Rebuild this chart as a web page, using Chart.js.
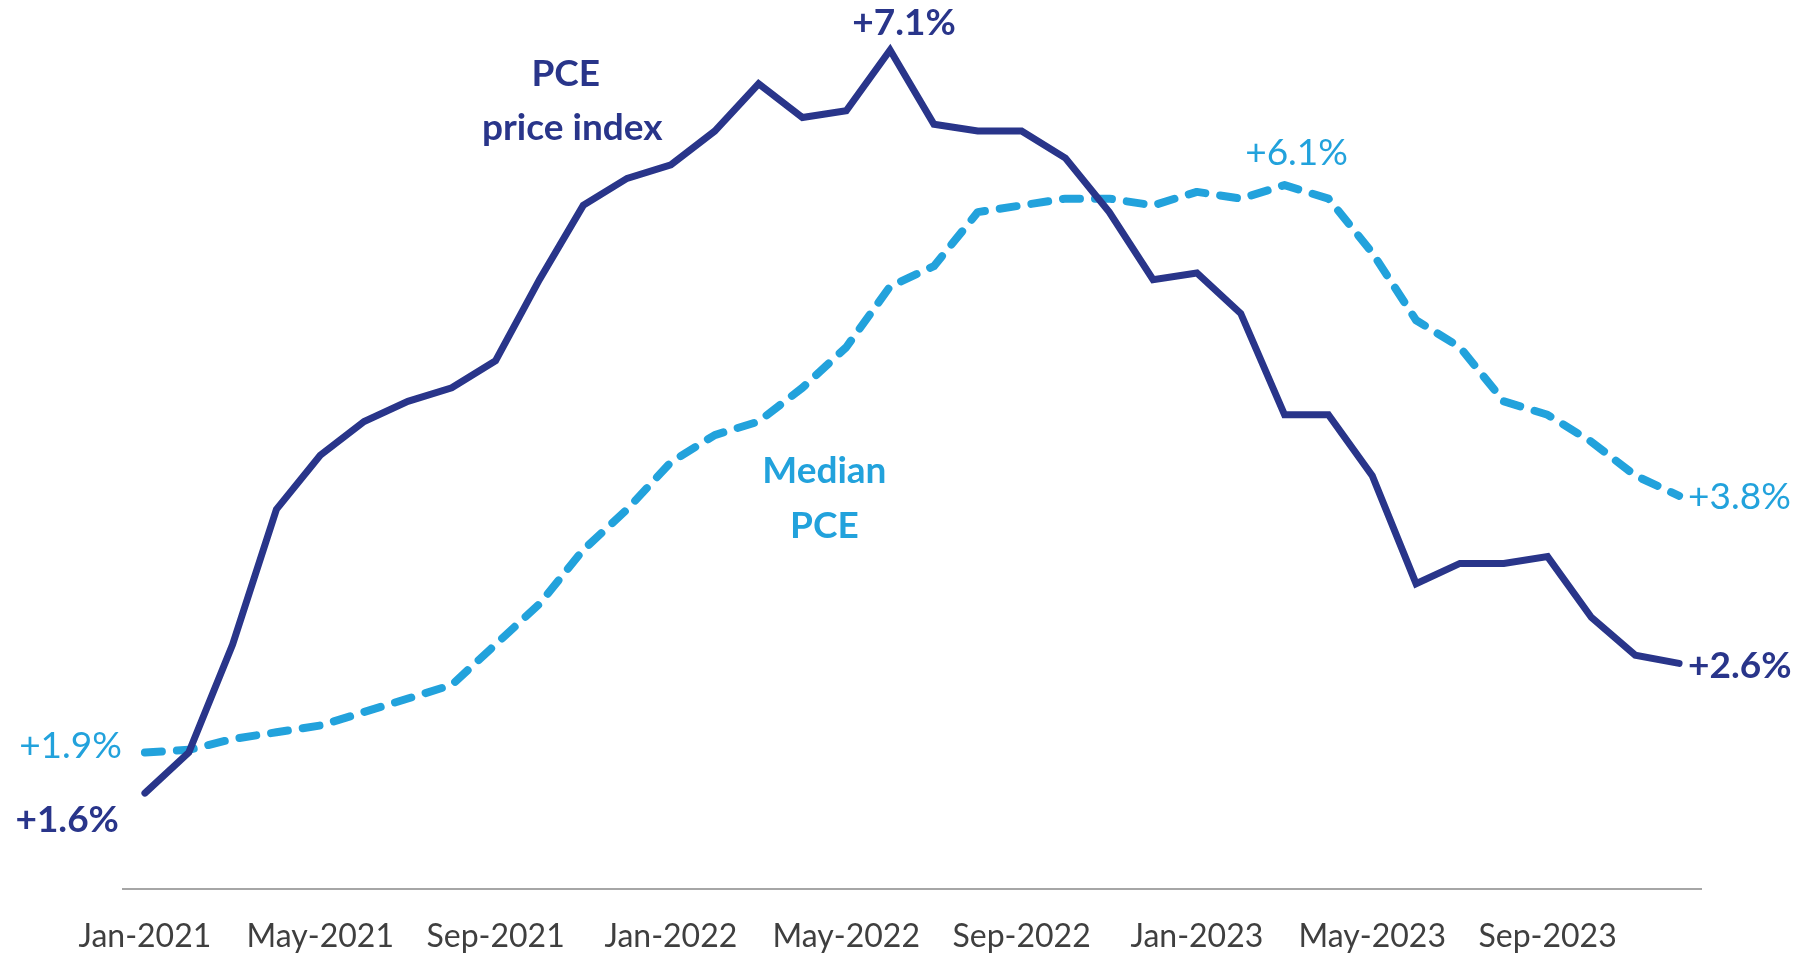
<!DOCTYPE html>
<html>
<head>
<meta charset="utf-8">
<script src="https://cdn.jsdelivr.net/npm/chart.js@4.4.1/dist/chart.umd.min.js"></script>
<style>
  html, body { margin: 0; padding: 0; background: #fff; }
  #wrap { width: 1806px; height: 957px; position: relative; }
</style>
</head>
<body>
<div id="wrap"><canvas id="pce_chart"></canvas></div>
<script>
// monthly categories, Jan-2021 .. Dec-2023
const months = [
    'Jan-2021', 'Feb-2021', 'Mar-2021', 'Apr-2021', 'May-2021', 'Jun-2021',
    'Jul-2021', 'Aug-2021', 'Sep-2021', 'Oct-2021', 'Nov-2021', 'Dec-2021',
    'Jan-2022', 'Feb-2022', 'Mar-2022', 'Apr-2022', 'May-2022', 'Jun-2022',
    'Jul-2022', 'Aug-2022', 'Sep-2022', 'Oct-2022', 'Nov-2022', 'Dec-2022',
    'Jan-2023', 'Feb-2023', 'Mar-2023', 'Apr-2023', 'May-2023', 'Jun-2023',
    'Jul-2023', 'Aug-2023', 'Sep-2023', 'Oct-2023', 'Nov-2023', 'Dec-2023'
];

// PCE price index, % change y/y
const pce = [
    1.6, 1.9, 2.7, 3.7, 4.1, 4.35, 4.5, 4.6, 4.8, 5.4, 5.95, 6.15,
    6.25, 6.5, 6.85, 6.6, 6.65, 7.1, 6.55, 6.5, 6.5, 6.3, 5.9, 5.4,
    5.45, 5.15, 4.4, 4.4, 3.95, 3.15, 3.3, 3.3, 3.35, 2.9, 2.62, 2.56
];

// Median PCE, % change y/y
const medianPce = [
    1.9, 1.92, 2.0, 2.05, 2.1, 2.2, 2.3, 2.4, 2.7, 3.0, 3.4, 3.7,
    4.05, 4.25, 4.35, 4.6, 4.9, 5.35, 5.5, 5.9, 5.95, 6.0, 6.0, 5.95,
    6.05, 6.0, 6.1, 6.0, 5.6, 5.1, 4.9, 4.5, 4.4, 4.2, 3.95, 3.8
];

const NAVY = '#29358a';
const BLUE = '#22a2dc';
const FONT = 'Lato, "Open Sans", sans-serif';

const fmt = (v) => '+' + v.toFixed(1) + '%';

// text labels drawn on top of the lines
const labelPlugin = {
    id: 'pceLabels',
    afterDatasetsDraw(chart) {
        const { ctx, scales: { x, y } } = chart;
        const last = months.length - 1;
        const peakP = pce.indexOf(Math.max(...pce));
        const peakM = medianPce.indexOf(Math.max(...medianPce));

        const put = (text, px, py, color, weight, align) => {
            ctx.font = weight + ' 37px ' + FONT;
            ctx.fillStyle = color;
            ctx.textAlign = align;
            ctx.textBaseline = 'middle';
            ctx.fillText(text, px, py);
        };

        ctx.save();
        // end point values
        put(fmt(pce[0]), x.getPixelForValue(0) - 26, y.getPixelForValue(pce[0]) + 27, NAVY, 'bold', 'right');
        put(fmt(medianPce[0]), x.getPixelForValue(0) - 23, y.getPixelForValue(medianPce[0]) - 6, BLUE, 'normal', 'right');
        put(fmt(pce[peakP]), x.getPixelForValue(peakP) + 14, y.getPixelForValue(pce[peakP]) - 27, NAVY, 'bold', 'center');
        put(fmt(medianPce[peakM]), x.getPixelForValue(peakM) + 12, y.getPixelForValue(medianPce[peakM]) - 32, BLUE, 'normal', 'center');
        put(fmt(pce[last]), x.getPixelForValue(last) + 9, y.getPixelForValue(pce[last]) + 3, NAVY, 'bold', 'left');
        put(fmt(medianPce[last]), x.getPixelForValue(last) + 9, y.getPixelForValue(medianPce[last]) + 1, BLUE, 'normal', 'left');

        // series names
        put('PCE', x.getPixelForValue(9.6), y.getPixelForValue(6.92), NAVY, 'bold', 'center');
        put('price index', x.getPixelForValue(9.75), y.getPixelForValue(6.52), NAVY, 'bold', 'center');
        put('Median', x.getPixelForValue(15.5), y.getPixelForValue(3.98), BLUE, 'bold', 'center');
        put('PCE', x.getPixelForValue(15.5), y.getPixelForValue(3.58), BLUE, 'bold', 'center');
        ctx.restore();
    }
};

const ctx = document.getElementById('pce_chart');

let chart = new Chart(ctx, {
    type: 'line',
    data: {
        labels: months,
        datasets: [{
            label: 'PCE price index',
            data: pce,
            borderColor: NAVY,
            borderWidth: 7,
            borderCapStyle: 'round',
            pointRadius: 0,
            tension: 0
        }, {
            label: 'Median PCE',
            data: medianPce,
            borderColor: BLUE,
            borderWidth: 8,
            borderDash: [17, 15],
            borderCapStyle: 'round',
            borderJoinStyle: 'round',
            pointRadius: 0,
            tension: 0
        }]
    },
    options: {
        responsive: true,
        maintainAspectRatio: false,
        animation: false,
        layout: {
            padding: { left: 123, right: 105, top: 23, bottom: 0 }
        },
        plugins: {
            legend: { display: false },
            title: { display: false },
            tooltip: { enabled: false }
        },
        scales: {
            x: {
                type: 'category',
                offset: true,
                grid: { display: false, drawTicks: false },
                border: { display: true, color: '#a6a6a6', width: 2 },
                ticks: {
                    autoSkip: false,
                    maxRotation: 0,
                    padding: 28,
                    color: '#3f3f3f',
                    font: { family: FONT, size: 32 },
                    callback: (val, i) => (i % 4 === 0 ? months[i] : '')
                },
                afterFit: (scale) => { scale.height = 68; }
            },
            y: {
                display: false,
                min: 0.89,
                max: 7.3
            }
        }
    },
    plugins: [labelPlugin]
});
</script>
</body>
</html>
